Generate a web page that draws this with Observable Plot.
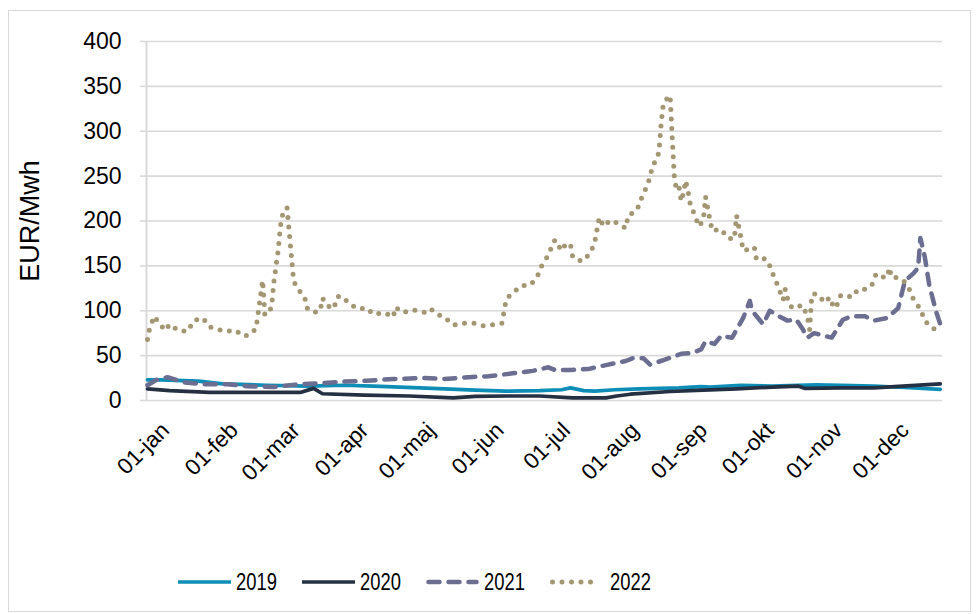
<!DOCTYPE html>
<html><head><meta charset="utf-8">
<script src="https://cdn.jsdelivr.net/npm/d3@7"></script>
<script src="https://cdn.jsdelivr.net/npm/@observablehq/plot@0.6"></script>
<style>
body{margin:0;background:#fff;}
#wrap{position:relative;width:978px;height:614px;overflow:hidden;font-family:"Liberation Sans",Arial,sans-serif;}
#frame{position:absolute;left:8px;top:10px;width:963px;height:602px;border:1.5px solid #d9d9d9;box-sizing:border-box;}
#chart{position:absolute;left:0;top:0;}
#legend{position:absolute;left:0;top:560px;width:978px;height:44px;}
.sw{position:absolute;top:17px;}
.lt{position:absolute;top:0;height:44px;line-height:44px;font-family:"Liberation Sans",Arial,sans-serif;font-size:24.5px;color:#000;transform:scaleX(0.75);transform-origin:0 50%;}
</style></head><body>
<div id="wrap"><div id="frame"></div><div id="chart"></div><div id="legend"></div></div>
<script>
// ---- data (day of year, value EUR/MWh) ----
const years = ["2019", "2020", "2021", "2022"];
const colors = ["#0e8db6", "#263043", "#6b6d91", "#a39773"];
const monthLabels = ["01-jan","01-feb","01-mar","01-apr","01-maj","01-jun","01-jul","01-aug","01-sep","01-okt","01-nov","01-dec"];
const yTicks = [0, 50, 100, 150, 200, 250, 300, 350, 400];

const days2019 = [0,6,23,34,54,72,89,102,123,148,162,177,187,191,197,202,211,222,231,240,250,254,268,282,302,313,328,342,358];
const vals2019 = [23,23,21.5,18.5,17,16,17,16,14,11.5,10.5,11,12,14,11,10.5,12,13,13.5,14,15.5,15,17,16,17.3,17,16,14.5,12.5];

const days2020 = [0,10,28,49,69,75,79,98,118,138,148,162,177,192,207,212,218,236,251,266,282,294,297,313,328,341,358];
const vals2020 = [13,11,9,9,9,13.5,7.5,6,5,3,4.5,5,5,3,3,5,7,10,11.5,13,15,16,13.5,14,14,16,18.5];

const days2021 = [0,4,9,17,27,36,45,57,68,77,88,99,111,125,134,145,154,164,174,181,184,191,199,208,216,219,224,227,233,241,246,250,252,256,259,264,269,272,273,278,281,285,289,293,296,298,301,309,314,318,324,328,334,339,342,346,348,349,351,353,356,358];
const vals2021 = [17,23,26,20,18,18,16,15,18,19,21,22,24,25,24,26,27,30,33,37,34,34,35,40,44,47,47,40,45,52,53,57,66,63,72,70,92,111,100,85,100,94,89,90,79,70,75,70,90,94,94,89,92,103,133,142,148,181,160,129,100,85];

const days2022 = [0,1,3,5,8,10,14,18,21,25,28,31,35,40,43,46,49,52,53,56,57,59,60,61,63,66,68,71,72,75,78,79,81,84,86,88,91,95,99,102,107,111,112,115,120,123,126,128,130,134,138,143,148,152,155,160,161,162,165,169,173,176,178,181,183,184,187,189,191,192,196,200,202,204,206,209,212,216,217,221,223,225,227,228,230,231,232,233,236,237,238,239,240,241,242,243,244,245,247,249,251,252,254,255,259,262,265,266,268,269,272,274,275,279,281,283,285,287,288,289,291,294,296,298,299,300,302,306,308,310,311,313,315,318,321,324,327,329,331,334,335,336,339,342,344,346,349,351,354,358];
const vals2022 = [68,81,94,87,78,85,78,77,89,92,82,80,77,78,72,73,80,134,95,103,131,167,194,207,215,133,124,115,103,98,100,114,106,102,116,116,108,102,103,96,98,93,104,98,101,99,98,102,97,93,84,86,86,83,84,86,99,113,120,128,129,138,150,162,174,179,167,175,174,160,155,164,177,204,194,201,198,192,206,212,225,236,249,262,268,278,310,332,340,290,245,235,238,222,231,245,234,220,207,194,201,227,201,189,191,181,180,206,181,167,169,171,157,158,150,137,126,112,124,114,103,105,106,93,79,118,119,109,115,103,104,117,118,115,124,124,128,141,138,137,148,137,137,132,124,112,102,89,81,77];

// ---- build table ----
const base = Date.UTC(2022, 0, 1);
const toDate = d => new Date(base + d * 864e5);
const seriesDays = [days2019, days2020, days2021, days2022];
const seriesVals = [vals2019, vals2020, vals2021, vals2022];
const tables = years.map((y, k) => seriesDays[k].map((d, i) => ({year: y, date: toDate(d), value: seriesVals[k][i]})));
const monthStarts = d3.range(12).map(m => new Date(Date.UTC(2022, m, 1)));

const styles = [
  {stroke: colors[0], strokeWidth: 3.7, strokeLinejoin: "round"},
  {stroke: colors[1], strokeWidth: 3.7, strokeLinejoin: "round"},
  {stroke: colors[2], strokeWidth: 4.5, strokeDasharray: "11,9", strokeLinecap: "round", strokeLinejoin: "round"},
  {stroke: colors[3], strokeWidth: 5, strokeDasharray: "0,9.5", strokeLinecap: "round", strokeLinejoin: "round"}
];

const chart = Plot.plot({
  width: 978, height: 540,
  marginLeft: 147, marginRight: 36, marginTop: 41, marginBottom: 140,
  x: {type: "utc", domain: [toDate(0), toDate(359)]},
  y: {domain: [0, 400]},
  style: {fontFamily: "Liberation Sans, Arial, sans-serif", background: "transparent", color: "#000"},
  marks: [
    Plot.gridY(yTicks, {stroke: "#d9d9d9", strokeOpacity: 1, strokeWidth: 1.6}),
    Plot.ruleX([toDate(0)], {stroke: "#d9d9d9", strokeWidth: 2, dx: -1}),
    Plot.axisY(yTicks, {tickSize: 7, stroke: "#d9d9d9", strokeWidth: 1.6, tickPadding: 19, fontSize: 23, fill: "#000", label: null}),
    Plot.axisX(monthStarts, {tickSize: 0, tickRotate: -45, tickPadding: 3, fontSize: 22.5, fill: "#000", dx: 18, dy: 23, label: null,
      tickFormat: d => monthLabels[d.getUTCMonth()]}),
    ...tables.map((t, k) => Plot.line(t, {x: "date", y: "value", ...styles[k]})),
    Plot.text(["EUR/Mwh"], {frameAnchor: "left", textAnchor: "middle", dx: -117, rotate: -90, fontSize: 27, fill: "#000"})
  ]
});
document.getElementById("chart").appendChild(chart);

// ---- legend ----
const legendPos = [[178, 236], [302, 360], [426, 484], [550, 610]];
const lg = document.getElementById("legend");
years.forEach((y, k) => {
  const [sx, tx] = legendPos[k];
  const w = k === 3 ? 50 : 53;
  const s = styles[k];
  const svg = `<svg class="sw" style="left:${sx}px" width="${w}" height="10"><line x1="${s.strokeLinecap ? 2.5 : 0}" x2="${w - (s.strokeLinecap ? 2.5 : 0)}" y1="5" y2="5" stroke="${s.stroke}" stroke-width="${s.strokeWidth}" stroke-linecap="${s.strokeLinecap || 'round'}" ${s.strokeDasharray ? `stroke-dasharray="${s.strokeDasharray}"` : ""}/></svg>`;
  lg.insertAdjacentHTML("beforeend", svg + `<span class="lt" style="left:${tx}px">${y}</span>`);
});
</script>
</body></html>
